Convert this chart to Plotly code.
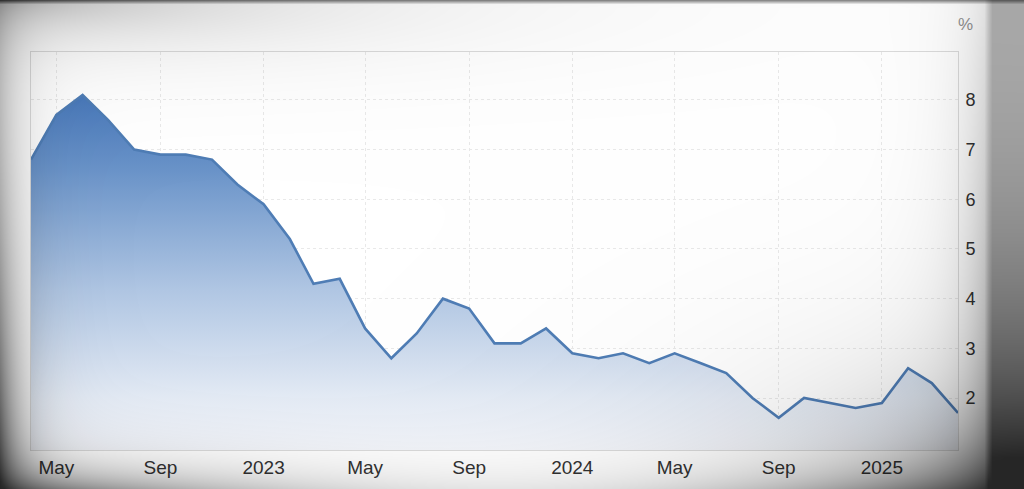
import numpy as np
import plotly.graph_objects as go

# ---- data ----
months = ["2022-04-01", "2022-05-01", "2022-06-01", "2022-07-01", "2022-08-01", "2022-09-01",
          "2022-10-01", "2022-11-01", "2022-12-01", "2023-01-01", "2023-02-01", "2023-03-01",
          "2023-04-01", "2023-05-01", "2023-06-01", "2023-07-01", "2023-08-01", "2023-09-01",
          "2023-10-01", "2023-11-01", "2023-12-01", "2024-01-01", "2024-02-01", "2024-03-01",
          "2024-04-01", "2024-05-01", "2024-06-01", "2024-07-01", "2024-08-01", "2024-09-01",
          "2024-10-01", "2024-11-01", "2024-12-01", "2025-01-01", "2025-02-01", "2025-03-01",
          "2025-04-01"]
values = [6.8, 7.7, 8.1, 7.6, 7.0, 6.9,
          6.9, 6.8, 6.3, 5.9, 5.2, 4.3,
          4.4, 3.4, 2.8, 3.3, 4.0, 3.8,
          3.1, 3.1, 3.4, 2.9, 2.8, 2.9,
          2.7, 2.9, 2.7, 2.5, 2.0, 1.6,
          2.0, 1.9, 1.8, 1.9, 2.6, 2.3,
          1.7]
x_tick_vals = ["2022-05-01", "2022-09-01", "2023-01-01", "2023-05-01", "2023-09-01",
               "2024-01-01", "2024-05-01", "2024-09-01", "2025-01-01"]
x_tick_text = ["May", "Sep", "2023", "May", "Sep", "2024", "May", "Sep", "2025"]
y_tick_vals = [2, 3, 4, 5, 6, 7, 8]
y_tick_text = ["2", "3", "4", "5", "6", "7", "8"]

W, H = 1024, 489
L, R, T, B = 31, 958, 52, 450

fig = go.Figure()

fig.add_trace(go.Scatter(
    x=months, y=values, mode="lines",
    line=dict(color="#4f7db5", width=2.6),
    fill="tozeroy",
    fillgradient=dict(
        type="vertical", start=0.95, stop=8.1,
        colorscale=[[0, "rgb(244,246,251)"], [0.15, "rgb(228,235,245)"],
                    [0.45, "rgb(176,198,227)"], [0.8, "rgb(104,146,200)"],
                    [1, "rgb(72,120,186)"]]),
    hoverinfo="skip", showlegend=False,
    xaxis="x", yaxis="y",
))

# ---- photo vignette overlay (decoration, darkened edges of the photographed screen) ----
gx = np.linspace(0, W, 257)
gy = np.linspace(0, H, 124)
XX, YY = np.meshgrid(gx, gy)
yn = YY / H
a_left = (0.24 + 0.5 * yn ** 2) * np.exp(-XX / 24)
a_bot = (0.10 + 0.5 * ((XX - 520) / 520) ** 2) * np.exp(-(H - YY) / 24)
band = np.clip((XX - 984) / 8, 0, 1)
a_right = band * (0.34 + 0.45 * yn ** 2) + (1 - band) * 0.22 * np.exp(-(984 - XX) / 30) * (0.5 + yn)
a_br = 0.55 * np.exp(-np.sqrt(((W - XX) / 130) ** 2 + ((H - YY) / 70) ** 2))
a_top = 0.3 * np.exp(-np.sqrt((XX / 250) ** 2 + (YY / 35) ** 2)) + 0.45 * np.clip((4 - YY) / 3, 0, 1)
alpha = 1 - (1 - a_left) * (1 - a_bot) * (1 - a_right) * (1 - a_top) * (1 - a_br)
alpha = np.clip(alpha, 0, 0.85)
fig.add_trace(go.Heatmap(
    x=gx, y=gy, z=alpha, zmin=0, zmax=1, zsmooth="best",
    colorscale=[[0, "rgba(0,0,0,0)"], [1, "rgba(0,0,0,1)"]],
    showscale=False, hoverinfo="skip", xaxis="x2", yaxis="y2",
))

grid_col = "#e9e9e9"
fig.update_layout(
    width=W, height=H,
    margin=dict(l=0, r=0, t=0, b=0),
    paper_bgcolor="white", plot_bgcolor="rgba(0,0,0,0)",
    xaxis=dict(
        domain=[L / W, R / W], type="date",
        range=["2022-04-01", "2025-04-01"],
        tickvals=x_tick_vals, ticktext=x_tick_text,
        showgrid=True, gridcolor=grid_col, griddash="dot", gridwidth=1,
        showline=True, linecolor="#dcdcdc", linewidth=1, mirror=True,
        ticks="", zeroline=False,
        tickfont=dict(family="Liberation Sans, Arial", size=19, color="#333333"),
    ),
    yaxis=dict(
        domain=[1 - B / H, 1 - T / H], side="right",
        range=[0.953, 8.966],
        tickvals=y_tick_vals, ticktext=y_tick_text,
        showgrid=True, gridcolor=grid_col, griddash="dot", gridwidth=1,
        showline=True, linecolor="#dcdcdc", linewidth=1, mirror=True,
        ticks="outside", ticklen=3, tickcolor="rgba(0,0,0,0)", zeroline=False,
        tickfont=dict(family="Liberation Sans, Arial", size=18, color="#333333"),
    ),
    xaxis2=dict(domain=[0, 1], range=[0, W], visible=False, fixedrange=True),
    yaxis2=dict(domain=[0, 1], range=[H, 0], visible=False, fixedrange=True),
    annotations=[dict(
        text="%", x=965 / W, y=1 - 24 / H, xref="paper", yref="paper",
        showarrow=False, xanchor="center", yanchor="middle",
        font=dict(family="Liberation Sans, Arial", size=17, color="#888888"),
    )],
)

fig.write_html("out.html", config={"displayModeBar": False},
               post_script="document.body.style.margin='0';document.body.style.overflow='hidden';")
